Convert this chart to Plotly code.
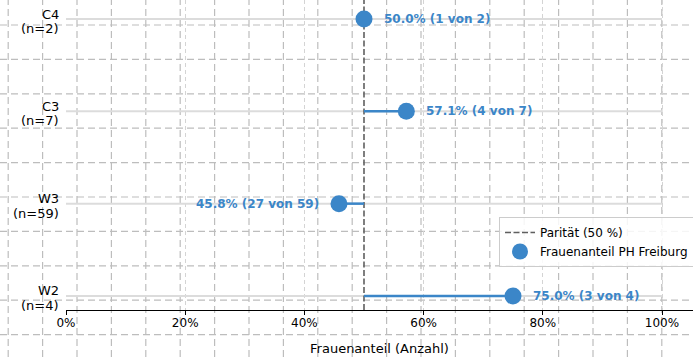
import plotly.graph_objects as go

# ---- data ----
categories = ["W2", "W3", "C3", "C4"]          # bottom -> top
group_sizes = [4, 59, 7, 2]
women_counts = [3, 27, 4, 1]
shares = [75.0, 45.8, 57.1, 50.0]             # percent
parity = 50
x_ticks = [0, 20, 40, 60, 80, 100]

BLUE = "#3b86c8"
FONT = "DejaVu Sans"
W, H = 693, 357

ypos = list(range(len(categories)))
y_lo, y_hi = -0.152, 3.206

fig = go.Figure()

# light gray full-range base lines
bx, by = [], []
for y in ypos:
    bx += [0, 100, None]
    by += [y, y, None]
fig.add_trace(go.Scatter(x=bx, y=by, mode="lines", line=dict(color="#dcdcdc", width=2),
                         showlegend=False, hoverinfo="skip"))

# parity line
fig.add_trace(go.Scatter(x=[parity, parity], y=[y_lo, y_hi], mode="lines",
                         line=dict(color="#5f5f5f", width=1.6, dash="6px,2.5px"),
                         name="Parität (50 %)"))

# stems
sx, sy = [], []
for y, s in zip(ypos, shares):
    sx += [parity, s, None]
    sy += [y, y, None]
fig.add_trace(go.Scatter(x=sx, y=sy, mode="lines", line=dict(color=BLUE, width=2.5),
                         showlegend=False, hoverinfo="skip"))

# markers
fig.add_trace(go.Scatter(x=shares, y=ypos, mode="markers",
                         marker=dict(color=BLUE, size=17, line=dict(width=0)),
                         name="Frauenanteil PH Freiburg"))

# value labels
for y, s, k, n in zip(ypos, shares, women_counts, group_sizes):
    right = s >= parity
    fig.add_annotation(x=s, y=y, text=f"<b>{s:.1f}% ({k} von {n})</b>", showarrow=False,
                       xanchor="left" if right else "right", xshift=18 if right else -18,
                       font=dict(family=FONT, size=12, color=BLUE))

# category labels (two lines, tight line spacing)
for y, c, n in zip(ypos, categories, group_sizes):
    fig.add_annotation(x=61 / W, xref="paper", y=y, yref="y", text=c, showarrow=False,
                       xanchor="right", yanchor="middle", yshift=5,
                       font=dict(family=FONT, size=13, color="black"))
    fig.add_annotation(x=61 / W, xref="paper", y=y, yref="y", text=f"(n={n})", showarrow=False,
                       xanchor="right", yanchor="middle", yshift=-9.5,
                       font=dict(family=FONT, size=13, color="black"))

# background page grid (decorative dashed lattice over whole figure)
step = 34.4
shapes = []
gx = 8.2
while gx < W:
    shapes.append(dict(type="line", xref="paper", yref="paper", x0=gx / W, x1=gx / W, y0=0, y1=1,
                       line=dict(color="#bdbdbd", width=1.2, dash="7px,4px"), layer="below"))
    gx += step
gy = 25.0
while gy < H:
    shapes.append(dict(type="line", xref="paper", yref="paper", x0=0, x1=1, y0=1 - gy / H, y1=1 - gy / H,
                       line=dict(color="#bdbdbd", width=1.2, dash="7px,4px"), layer="below"))
    gy += step

fig.update_layout(
    width=W, height=H,
    margin=dict(l=0, r=0, t=0, b=0, autoexpand=False),
    paper_bgcolor="white", plot_bgcolor="rgba(0,0,0,0)",
    font=dict(family=FONT, size=12, color="#000000"),
    shapes=shapes,
    showlegend=True,
    legend=dict(x=499 / W, y=1 - 217 / H, xanchor="left", yanchor="top",
                bgcolor="rgba(255,255,255,0.85)", bordercolor="#cccccc", borderwidth=1,
                font=dict(family=FONT, size=12)),
    xaxis=dict(domain=[66 / W, 1], range=[0, 105.2], tickvals=x_ticks,
               ticktext=[f"{t}%" for t in x_ticks],
               showgrid=True, gridcolor="#d4d4d4", gridwidth=1, griddash="4px,3px",
               zeroline=False, showline=True, linecolor="black", linewidth=1.2,
               ticks="outside", ticklen=4, tickcolor="black", tickwidth=1,
               tickfont=dict(family=FONT, size=12), automargin=False, ticklabelstandoff=-3,
               title=dict(text="Frauenanteil (Anzahl)", font=dict(family=FONT, size=13), standoff=15)),
    yaxis=dict(domain=[47 / H, 1], range=[y_lo, y_hi], tickvals=ypos, showticklabels=False,
               showgrid=False, zeroline=False, showline=False, ticks="", automargin=False),
)

fig.write_html("out.html", config={"displayModeBar": False},
               post_script="document.body.style.margin='0';")
